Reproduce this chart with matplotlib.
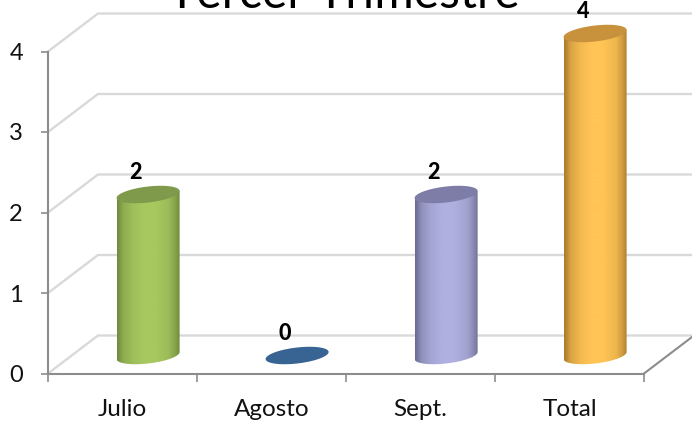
import numpy as np
import matplotlib
matplotlib.use("Agg")
import matplotlib.pyplot as plt
from matplotlib.colors import LinearSegmentedColormap, to_rgb
from matplotlib.patches import PathPatch
from matplotlib.path import Path

title = "Tercer Trimestre"
categories = ["Julio", "Agosto", "Sept.", "Total"]
values = [2, 0, 2, 4]
y_ticks = [0, 1, 2, 3, 4]

side_colors = ["#6f8a3e", "#2f5c8c", "#6a6a90", "#a87a2e"]
light_colors = ["#a6c85f", "#3a6a9e", "#b0b0e0", "#ffc455"]
top_colors = ["#7f9a4a", "#376492", "#7e7da8", "#c8923c"]

plt.rcParams["font.family"] = ["Lato", "DejaVu Sans"]

W, H = 692, 421
fig = plt.figure(figsize=(W / 100, H / 100), dpi=100)
L, R, T, B = 48, 644, 51.5, 373.5
ax = fig.add_axes([L / W, (H - B) / H, (R - L) / W, (B - T) / H])
ax.set_xlim(-0.5, len(categories) - 0.5)
ax.set_ylim(0, 4)

ux = len(categories) / (R - L)  # data units per pixel
uy = 4 / (B - T)
depth_x, depth_y = 50 * ux, 38 * uy

grid = "#d9d9d9"
axis = "#8c8c8c"
for v in y_ticks:
    ax.plot([-0.5, -0.5 + depth_x, 3.5 + depth_x], [v, v + depth_y, v + depth_y],
            color=grid, lw=1.7, clip_on=False, zorder=1, solid_joinstyle="miter")
ax.plot([3.5, 3.5 + depth_x], [0, depth_y], color=axis, lw=1.5, clip_on=False, zorder=1.5)

for s in ("top", "right"):
    ax.spines[s].set_visible(False)
for s in ("left", "bottom"):
    ax.spines[s].set_color(axis)
    ax.spines[s].set_linewidth(1.5)
ax.patch.set_visible(False)

ax.set_yticks(y_ticks)
ax.tick_params(axis="y", length=5, width=1.2, color=axis, labelsize=17, pad=13, labelcolor="#111111")
ax.set_xticks(np.arange(-0.5, len(categories)))
ax.set_xticklabels([])
ax.tick_params(axis="x", which="major", length=5.5, width=1.2, color=axis)
ax.set_xticks(np.arange(len(categories)), minor=True)
ax.set_xticklabels(categories, minor=True)
ax.tick_params(axis="x", which="minor", length=0, labelsize=17.5, pad=18, labelcolor="#111111")

a_px, b_px, k_px = 31.5, 8.0, 3.5
t = np.linspace(0, 2 * np.pi, 121)


def ell(cx, cy, tt):
    return (cx + a_px * ux * np.cos(tt),
            cy + (b_px * np.sin(tt) + k_px * np.cos(tt)) * uy)


def mix(c1, c2, f):
    return tuple(np.array(to_rgb(c1)) * (1 - f) + np.array(to_rgb(c2)) * f)


for i, v in enumerate(values):
    cx = i + 25.6 * ux
    base = 18 * uy
    top = base + v
    if v > 0:
        ts = np.linspace(np.pi, 2 * np.pi, 61)
        xb, yb = ell(cx, base, ts)
        xt, yt = ell(cx, top, np.array([0.0, np.pi]))
        verts = np.column_stack([np.r_[xb, xt, xb[0]], np.r_[yb, yt, yb[0]]])
        codes = [Path.MOVETO] + [Path.LINETO] * (len(verts) - 2) + [Path.CLOSEPOLY]
        body = PathPatch(Path(verts, codes), fc="none", ec="none", clip_on=False, zorder=3)
        ax.add_patch(body)
        s, l = side_colors[i], light_colors[i]
        cmap = LinearSegmentedColormap.from_list(
            "c", [(0, s), (0.1, mix(s, l, 0.55)), (0.25, mix(s, l, 0.85)), (0.42, l), (0.62, l),
                  (0.82, mix(s, l, 0.8)), (0.93, mix(s, l, 0.4)), (1, s)])
        im = ax.imshow(np.linspace(0, 1, 128)[None, :], cmap=cmap, aspect="auto",
                       extent=[cx - a_px * ux, cx + a_px * ux, base - 10 * uy, top + 10 * uy],
                       zorder=3, interpolation="bilinear")
        im.set_clip_box(fig.bbox)
        im.set_clip_path(body)
    xe, ye = ell(cx, top, t)
    ax.fill(xe, ye, fc=top_colors[i], ec="none", clip_on=False, zorder=4)
    ax.annotate(str(v), (i, v), xytext=(i + 13.5 * ux, top + 22 * uy), textcoords="data",
                ha="center", va="center", fontsize=15.5, fontweight="black",
                color="black", zorder=5, annotation_clip=False)

ax.set_xlim(-0.5, len(categories) - 0.5)
ax.set_ylim(0, 4)

fig.text(344 / W, (H - 8) / H, title, ha="center", va="baseline", fontsize=34.5, color="black")
fig.savefig("out.png", dpi=100)
